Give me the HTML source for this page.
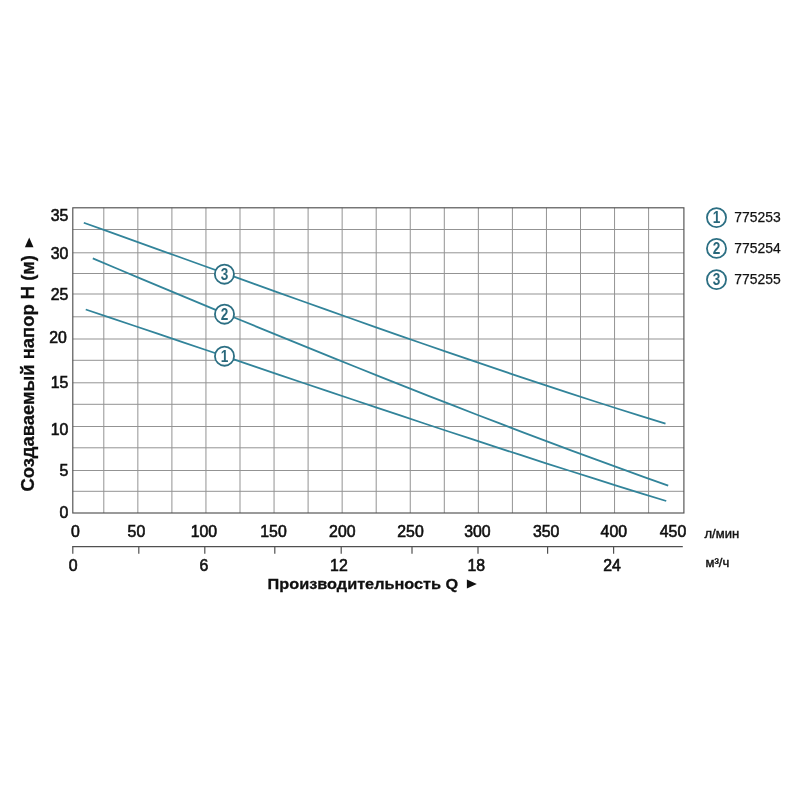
<!DOCTYPE html>
<html lang="ru"><head><meta charset="utf-8"><title>chart</title>
<style>
html,body{margin:0;padding:0;background:#fff;}
svg{display:block;filter:blur(0.3px);}
text{font-family:"Liberation Sans",sans-serif;fill:#101010;}
.dg{fill:#101010;stroke:#101010;stroke-width:0.6px;vector-effect:non-scaling-stroke;}
.n2{stroke:#151515;stroke-width:0.25px;}
.n3{stroke:#151515;stroke-width:0.45px;}
.b{font-weight:bold;stroke:#101010;stroke-width:0.3px;}
.t{fill:#32849a;font-weight:bold;}
</style></head><body>
<svg width="800" height="800" viewBox="0 0 800 800">
<rect width="800" height="800" fill="#fff"/>
<g stroke="#939393" stroke-width="1" fill="none">
<line x1="103.80" y1="207.8" x2="103.80" y2="513.0"/>
<line x1="137.85" y1="207.8" x2="137.85" y2="513.0"/>
<line x1="171.90" y1="207.8" x2="171.90" y2="513.0"/>
<line x1="205.95" y1="207.8" x2="205.95" y2="513.0"/>
<line x1="240.00" y1="207.8" x2="240.00" y2="513.0"/>
<line x1="274.05" y1="207.8" x2="274.05" y2="513.0"/>
<line x1="308.10" y1="207.8" x2="308.10" y2="513.0"/>
<line x1="342.15" y1="207.8" x2="342.15" y2="513.0"/>
<line x1="376.20" y1="207.8" x2="376.20" y2="513.0"/>
<line x1="410.25" y1="207.8" x2="410.25" y2="513.0"/>
<line x1="444.30" y1="207.8" x2="444.30" y2="513.0"/>
<line x1="478.35" y1="207.8" x2="478.35" y2="513.0"/>
<line x1="512.40" y1="207.8" x2="512.40" y2="513.0"/>
<line x1="546.45" y1="207.8" x2="546.45" y2="513.0"/>
<line x1="580.50" y1="207.8" x2="580.50" y2="513.0"/>
<line x1="614.55" y1="207.8" x2="614.55" y2="513.0"/>
<line x1="648.60" y1="207.8" x2="648.60" y2="513.0"/>
<line x1="72.8" y1="229.5" x2="683.9" y2="229.5"/>
<line x1="72.8" y1="252.8" x2="683.9" y2="252.8"/>
<line x1="72.8" y1="273.5" x2="683.9" y2="273.5"/>
<line x1="72.8" y1="294.0" x2="683.9" y2="294.0"/>
<line x1="72.8" y1="316.8" x2="683.9" y2="316.8"/>
<line x1="72.8" y1="339.0" x2="683.9" y2="339.0"/>
<line x1="72.8" y1="360.3" x2="683.9" y2="360.3"/>
<line x1="72.8" y1="382.8" x2="683.9" y2="382.8"/>
<line x1="72.8" y1="404.3" x2="683.9" y2="404.3"/>
<line x1="72.8" y1="426.5" x2="683.9" y2="426.5"/>
<line x1="72.8" y1="447.8" x2="683.9" y2="447.8"/>
<line x1="72.8" y1="470.5" x2="683.9" y2="470.5"/>
<line x1="72.8" y1="491.3" x2="683.9" y2="491.3"/>
</g>
<rect x="72.8" y="207.8" width="611.10" height="305.20" fill="none" stroke="#505050" stroke-width="1.15"/>
<g stroke="#32849a" stroke-width="1.8" fill="none" stroke-linejoin="round" stroke-linecap="butt">
<path d="M83.80,222.75 L108.04,231.41 L132.28,240.09 L156.51,248.80 L180.75,257.51 L204.99,266.23 L229.23,274.94 L253.46,283.65 L277.70,292.34 L301.94,301.00 L326.18,309.64 L350.41,318.24 L374.65,326.80 L398.89,335.30 L423.12,343.75 L447.36,352.14 L471.60,360.46 L495.84,368.70 L520.08,376.85 L544.31,384.92 L568.55,392.89 L592.79,400.75 L617.02,408.51 L641.26,416.14 L665.50,423.66"/>
<path d="M92.80,258.42 L116.78,268.51 L140.75,278.57 L164.73,288.60 L188.70,298.59 L212.68,308.55 L236.65,318.46 L260.63,328.33 L284.60,338.15 L308.58,347.91 L332.55,357.62 L356.53,367.27 L380.50,376.85 L404.48,386.37 L428.45,395.82 L452.43,405.19 L476.40,414.49 L500.38,423.70 L524.35,432.83 L548.33,441.87 L572.30,450.82 L596.28,459.68 L620.25,468.43 L644.23,477.08 L668.20,485.63"/>
<path d="M85.75,309.52 L109.94,317.63 L134.12,325.77 L158.31,333.93 L182.50,342.10 L206.69,350.27 L230.88,358.45 L255.06,366.64 L279.25,374.81 L303.44,382.98 L327.62,391.13 L351.81,399.26 L376.00,407.36 L400.19,415.44 L424.38,423.48 L448.56,431.49 L472.75,439.45 L496.94,447.36 L521.12,455.22 L545.31,463.02 L569.50,470.76 L593.69,478.44 L617.88,486.04 L642.06,493.56 L666.25,501.01"/>
</g>
<circle cx="224.4" cy="274.2" r="9.55" fill="#fff" stroke="#2c6f83" stroke-width="1.8"/>
<text transform="translate(224.5,279.90) scale(0.8,1)" font-size="17" font-weight="bold" fill="#2a687b" style="fill:#2a687b" text-anchor="middle">3</text>
<circle cx="224.5" cy="314.2" r="9.55" fill="#fff" stroke="#2c6f83" stroke-width="1.8"/>
<text transform="translate(224.6,319.90) scale(0.8,1)" font-size="17" font-weight="bold" fill="#2a687b" style="fill:#2a687b" text-anchor="middle">2</text>
<circle cx="224.5" cy="356.2" r="9.55" fill="#fff" stroke="#2c6f83" stroke-width="1.8"/>
<text transform="translate(224.6,361.90) scale(0.8,1)" font-size="17" font-weight="bold" fill="#2a687b" style="fill:#2a687b" text-anchor="middle">1</text>
<circle cx="716.5" cy="217.6" r="9.55" fill="#fff" stroke="#2c6f83" stroke-width="1.8"/>
<text transform="translate(716.6,223.30) scale(0.8,1)" font-size="17" font-weight="bold" fill="#2a687b" style="fill:#2a687b" text-anchor="middle">1</text>
<text class="n2" x="734.3" y="222.00" font-size="13.9">775253</text>
<circle cx="716.5" cy="248.4" r="9.55" fill="#fff" stroke="#2c6f83" stroke-width="1.8"/>
<text transform="translate(716.6,254.10) scale(0.8,1)" font-size="17" font-weight="bold" fill="#2a687b" style="fill:#2a687b" text-anchor="middle">2</text>
<text class="n2" x="734.3" y="252.80" font-size="13.9">775254</text>
<circle cx="716.5" cy="279.6" r="9.55" fill="#fff" stroke="#2c6f83" stroke-width="1.8"/>
<text transform="translate(716.6,285.30) scale(0.8,1)" font-size="17" font-weight="bold" fill="#2a687b" style="fill:#2a687b" text-anchor="middle">3</text>
<text class="n2" x="734.3" y="284.00" font-size="13.9">775255</text>
<text class="dg" transform="translate(50.67,220.80) scale(0.9551,1)" font-size="16.6">35</text>
<text class="dg" transform="translate(50.67,259.00) scale(0.9551,1)" font-size="16.6">30</text>
<text class="dg" transform="translate(50.67,300.40) scale(0.9551,1)" font-size="16.6">25</text>
<text class="dg" transform="translate(49.17,343.40) scale(0.9551,1)" font-size="16.6">20</text>
<text class="dg" transform="translate(50.67,388.10) scale(0.9551,1)" font-size="16.6">15</text>
<text class="dg" transform="translate(50.67,434.90) scale(0.9551,1)" font-size="16.6">10</text>
<text class="dg" transform="translate(59.48,475.70) scale(0.9551,1)" font-size="16.6">5</text>
<text class="dg" transform="translate(59.48,518.00) scale(0.9551,1)" font-size="16.6">0</text>
<text class="dg" transform="translate(70.99,536.60) scale(0.9551,1)" font-size="16.6">0</text>
<text class="dg" transform="translate(127.58,536.60) scale(0.9551,1)" font-size="16.6">50</text>
<text class="dg" transform="translate(190.67,536.60) scale(0.9551,1)" font-size="16.6">100</text>
<text class="dg" transform="translate(260.27,536.60) scale(0.9551,1)" font-size="16.6">150</text>
<text class="dg" transform="translate(329.07,536.60) scale(0.9551,1)" font-size="16.6">200</text>
<text class="dg" transform="translate(397.27,536.60) scale(0.9551,1)" font-size="16.6">250</text>
<text class="dg" transform="translate(464.17,536.60) scale(0.9551,1)" font-size="16.6">300</text>
<text class="dg" transform="translate(532.97,536.60) scale(0.9551,1)" font-size="16.6">350</text>
<text class="dg" transform="translate(600.57,536.60) scale(0.9551,1)" font-size="16.6">400</text>
<text class="dg" transform="translate(659.77,536.60) scale(0.9551,1)" font-size="16.6">450</text>
<g stroke="#505050" stroke-width="1.2" fill="none">
<line x1="72.2" y1="546.6" x2="682.8" y2="546.6"/>
<line x1="72.8" y1="546.6" x2="72.8" y2="553.8"/>
<line x1="138.8" y1="546.6" x2="138.8" y2="553.8"/>
<line x1="204.8" y1="546.6" x2="204.8" y2="553.8"/>
<line x1="274.8" y1="546.6" x2="274.8" y2="553.8"/>
<line x1="341.2" y1="546.6" x2="341.2" y2="553.8"/>
<line x1="412" y1="546.6" x2="412" y2="553.8"/>
<line x1="478" y1="546.6" x2="478" y2="553.8"/>
<line x1="547.6" y1="546.6" x2="547.6" y2="553.8"/>
<line x1="613.6" y1="546.6" x2="613.6" y2="553.8"/>
</g>
<text class="dg" transform="translate(68.69,570.70) scale(0.9551,1)" font-size="16.6">0</text>
<text class="dg" transform="translate(199.39,570.70) scale(0.9551,1)" font-size="16.6">6</text>
<text class="dg" transform="translate(330.08,570.70) scale(0.9551,1)" font-size="16.6">12</text>
<text class="dg" transform="translate(467.48,570.70) scale(0.9551,1)" font-size="16.6">18</text>
<text class="dg" transform="translate(603.28,570.70) scale(0.9551,1)" font-size="16.6">24</text>
<text class="n3" x="704.5" y="538.4" font-size="13">л/мин</text>
<text class="n3" x="705.5" y="566.8" font-size="13">м³/ч</text>
<text class="b" transform="translate(267.6,589) scale(1,0.95)" font-size="16.3">Производительность Q</text>
<path d="M466.9,579.4 L476.8,583.9 L466.9,588.4 Z" fill="#101010"/>
<text class="b" font-size="18.4" transform="translate(33.9,491.6) rotate(-90)">Создаваемый напор H (м)</text>
<path d="M24.9,247.2 L33.5,247.2 L29.2,237.4 Z" fill="#101010"/>
</svg>
</body></html>
